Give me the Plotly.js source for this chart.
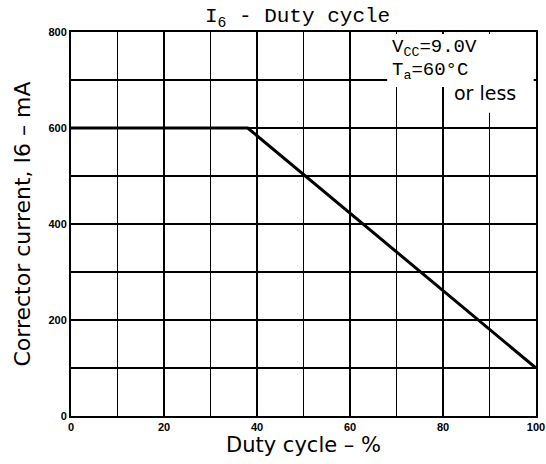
<!DOCTYPE html>
<html><head><meta charset="utf-8">
<script src="https://cdn.plot.ly/plotly-3.0.1.min.js"></script>
<style>html,body{margin:0;padding:0;background:#fff}#c{width:546px;height:464px}</style>
</head><body><div id="c"></div>
<script>
// Data
const dutyCycle = [0, 38, 100];          // %
const current   = [600, 600, 100];       // mA
const xTicks = [0, 20, 40, 60, 80, 100];
const xTickLabels = ["0", "20", "40", "60", "80", "100"];
const yTicks = [0, 200, 400, 600, 800];
const yTickLabels = ["0", "200", "400", "600", "800"];

const trace = {
  x: dutyCycle, y: current, type: 'scatter', mode: 'lines',
  line: {color: '#000', width: 3}, hoverinfo: 'skip', showlegend: false
};

const tickFont = {family: 'Liberation Sans, Arial, sans-serif', size: 11, color: '#000', weight: 'bold'};
const mono = 'Liberation Mono, DejaVu Sans Mono, monospace';
const sans = 'DejaVu Sans, sans-serif';

const layout = {
  width: 546, height: 464,
  margin: {l: 71, r: 10, t: 32, b: 48},
  paper_bgcolor: '#fff', plot_bgcolor: '#fff',
  title: {
    text: 'I<sub>6</sub> - Duty cycle',
    font: {family: mono, size: 21, color: '#000'},
    xref: 'container', x: 0.545, xanchor: 'center',
    yref: 'container', y: 0.968, yanchor: 'middle'
  },
  xaxis: {
    range: [0, 100],
    tickmode: 'array', tickvals: xTicks, ticktext: xTickLabels,
    showgrid: true, gridcolor: '#000', gridwidth: 1.5,
    minor: {dtick: 10, showgrid: true, gridcolor: '#000', gridwidth: 1.5},
    showline: true, linecolor: '#000', linewidth: 2, mirror: true,
    zeroline: false, ticks: '', tickfont: tickFont,
    title: {text: 'Duty cycle – %', font: {family: sans, size: 21, color: '#000'}, standoff: 4}
  },
  yaxis: {
    range: [0, 800],
    tickmode: 'array', tickvals: yTicks, ticktext: yTickLabels,
    showgrid: true, gridcolor: '#000', gridwidth: 1.5,
    minor: {dtick: 100, showgrid: true, gridcolor: '#000', gridwidth: 1.5},
    showline: true, linecolor: '#000', linewidth: 2, mirror: true,
    zeroline: false, ticks: '', tickfont: tickFont,
    title: {text: 'Corrector current, I6 – mA', font: {family: sans, size: 22, color: '#000'}, standoff: 12}
  },
  shapes: [
    {type: 'rect', xref: 'paper', yref: 'paper', x0: 0.68, x1: 0.995, y0: 0.857, y1: 0.995,
     fillcolor: '#fff', line: {width: 0}, layer: 'above'},
    {type: 'rect', xref: 'paper', yref: 'paper', x0: 0.812, x1: 0.995, y0: 0.79, y1: 0.858,
     fillcolor: '#fff', line: {width: 0}, layer: 'above'}
  ],
  annotations: [
    {xref: 'paper', yref: 'paper', x: 0.685, y: 0.995, xanchor: 'left', yanchor: 'top',
     text: 'V<sub>CC</sub>=9.0V', showarrow: false,
     font: {family: mono, size: 19, color: '#000'}},
    {xref: 'paper', yref: 'paper', x: 0.685, y: 0.935, xanchor: 'left', yanchor: 'top',
     text: 'T<sub>a</sub>=60°C', showarrow: false,
     font: {family: mono, size: 19, color: '#000'}},
    {xref: 'paper', yref: 'paper', x: 0.82, y: 0.875, xanchor: 'left', yanchor: 'top',
     text: 'or less', showarrow: false,
     font: {family: sans, size: 19, color: '#000'}}
  ]
};

Plotly.newPlot('c', [trace], layout, {displayModeBar: false, staticPlot: true});
</script></body></html>
